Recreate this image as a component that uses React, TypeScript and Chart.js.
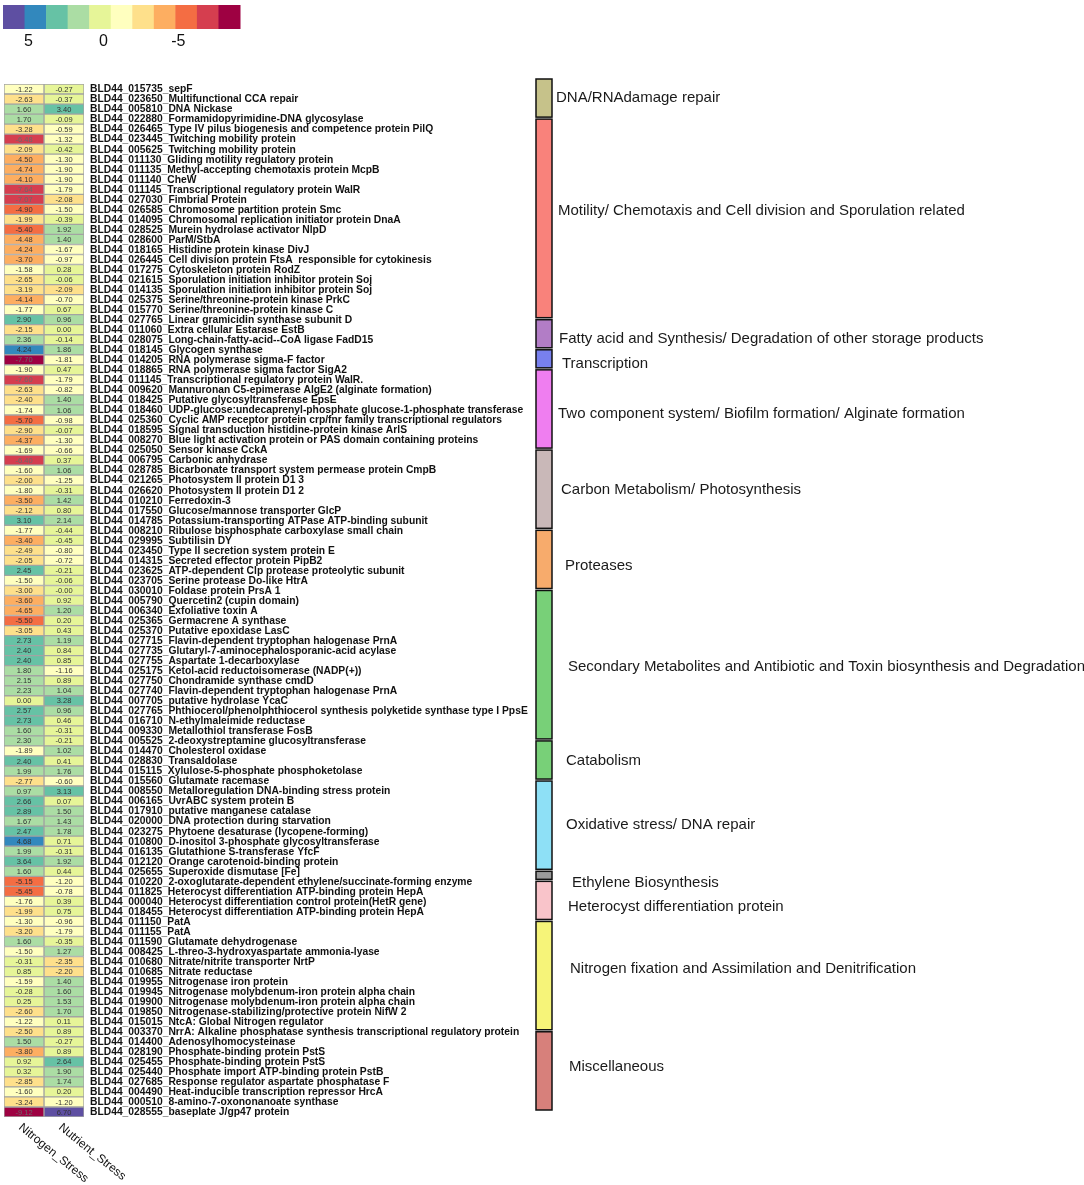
import React, { useEffect, useRef } from "react";
import { Chart, registerables } from "chart.js";
Chart.register(...registerables);

const geneLabels = [
  "BLD44_015735_sepF",
  "BLD44_023650_Multifunctional CCA repair",
  "BLD44_005810_DNA Nickase",
  "BLD44_022880_Formamidopyrimidine-DNA glycosylase",
  "BLD44_026465_Type IV pilus biogenesis and competence protein PilQ",
  "BLD44_023445_Twitching mobility protein",
  "BLD44_005625_Twitching mobility protein",
  "BLD44_011130_Gliding motility regulatory protein",
  "BLD44_011135_Methyl-accepting chemotaxis protein McpB",
  "BLD44_011140_CheW",
  "BLD44_011145_Transcriptional regulatory protein WalR",
  "BLD44_027030_Fimbrial Protein",
  "BLD44_026585_Chromosome partition protein Smc",
  "BLD44_014095_Chromosomal replication initiator protein DnaA",
  "BLD44_028525_Murein hydrolase activator NlpD",
  "BLD44_028600_ParM/StbA",
  "BLD44_018165_Histidine protein kinase DivJ",
  "BLD44_026445_Cell division protein FtsA  responsible for cytokinesis",
  "BLD44_017275_Cytoskeleton protein RodZ",
  "BLD44_021615_Sporulation initiation inhibitor protein Soj",
  "BLD44_014135_Sporulation initiation inhibitor protein Soj",
  "BLD44_025375_Serine/threonine-protein kinase PrkC",
  "BLD44_015770_Serine/threonine-protein kinase C",
  "BLD44_027765_Linear gramicidin synthase subunit D",
  "BLD44_011060_Extra cellular Estarase EstB",
  "BLD44_028075_Long-chain-fatty-acid--CoA ligase FadD15",
  "BLD44_018145_Glycogen synthase",
  "BLD44_014205_RNA polymerase sigma-F factor",
  "BLD44_018865_RNA polymerase sigma factor SigA2",
  "BLD44_011145_Transcriptional regulatory protein WalR.",
  "BLD44_009620_Mannuronan C5-epimerase AlgE2 (alginate formation)",
  "BLD44_018425_Putative glycosyltransferase EpsE",
  "BLD44_018460_UDP-glucose:undecaprenyl-phosphate glucose-1-phosphate transferase",
  "BLD44_025360_Cyclic AMP receptor protein crp/fnr family transcriptional regulators",
  "BLD44_018595_Signal transduction histidine-protein kinase ArlS",
  "BLD44_008270_Blue light activation protein or PAS domain containing proteins",
  "BLD44_025050_Sensor kinase CckA",
  "BLD44_006795_Carbonic anhydrase",
  "BLD44_028785_Bicarbonate transport system permease protein CmpB",
  "BLD44_021265_Photosystem II protein D1 3",
  "BLD44_026620_Photosystem II protein D1 2",
  "BLD44_010210_Ferredoxin-3",
  "BLD44_017550_Glucose/mannose transporter GlcP",
  "BLD44_014785_Potassium-transporting ATPase ATP-binding subunit",
  "BLD44_008210_Ribulose bisphosphate carboxylase small chain",
  "BLD44_029995_Subtilisin DY",
  "BLD44_023450_Type II secretion system protein E",
  "BLD44_014315_Secreted effector protein PipB2",
  "BLD44_023625_ATP-dependent Clp protease proteolytic subunit",
  "BLD44_023705_Serine protease Do-like HtrA",
  "BLD44_030010_Foldase protein PrsA 1",
  "BLD44_005790_Quercetin2 (cupin domain)",
  "BLD44_006340_Exfoliative toxin A",
  "BLD44_025365_Germacrene A synthase",
  "BLD44_025370_Putative epoxidase LasC",
  "BLD44_027715_Flavin-dependent tryptophan halogenase PrnA",
  "BLD44_027735_Glutaryl-7-aminocephalosporanic-acid acylase",
  "BLD44_027755_Aspartate 1-decarboxylase",
  "BLD44_025175_Ketol-acid reductoisomerase (NADP(+))",
  "BLD44_027750_Chondramide synthase cmdD",
  "BLD44_027740_Flavin-dependent tryptophan halogenase PrnA",
  "BLD44_007705_putative hydrolase YcaC",
  "BLD44_027765_Phthiocerol/phenolphthiocerol synthesis polyketide synthase type I PpsE",
  "BLD44_016710_N-ethylmaleimide reductase",
  "BLD44_009330_Metallothiol transferase FosB",
  "BLD44_005525_2-deoxystreptamine glucosyltransferase",
  "BLD44_014470_Cholesterol oxidase",
  "BLD44_028830_Transaldolase",
  "BLD44_015115_Xylulose-5-phosphate phosphoketolase",
  "BLD44_015560_Glutamate racemase",
  "BLD44_008550_Metalloregulation DNA-binding stress protein",
  "BLD44_006165_UvrABC system protein B",
  "BLD44_017910_putative manganese catalase",
  "BLD44_020000_DNA protection during starvation",
  "BLD44_023275_Phytoene desaturase (lycopene-forming)",
  "BLD44_010800_D-inositol 3-phosphate glycosyltransferase",
  "BLD44_016135_Glutathione S-transferase YfcF",
  "BLD44_012120_Orange carotenoid-binding protein",
  "BLD44_025655_Superoxide dismutase [Fe]",
  "BLD44_010220_2-oxoglutarate-dependent ethylene/succinate-forming enzyme",
  "BLD44_011825_Heterocyst differentiation ATP-binding protein HepA",
  "BLD44_000040_Heterocyst differentiation control protein(HetR gene)",
  "BLD44_018455_Heterocyst differentiation ATP-binding protein HepA",
  "BLD44_011150_PatA",
  "BLD44_011155_PatA",
  "BLD44_011590_Glutamate dehydrogenase",
  "BLD44_008425_L-threo-3-hydroxyaspartate ammonia-lyase",
  "BLD44_010680_Nitrate/nitrite transporter NrtP",
  "BLD44_010685_Nitrate reductase",
  "BLD44_019955_Nitrogenase iron protein",
  "BLD44_019945_Nitrogenase molybdenum-iron protein alpha chain",
  "BLD44_019900_Nitrogenase molybdenum-iron protein alpha chain",
  "BLD44_019850_Nitrogenase-stabilizing/protective protein NifW 2",
  "BLD44_015015_NtcA: Global Nitrogen regulator",
  "BLD44_003370_NrrA: Alkaline phosphatase synthesis transcriptional regulatory protein",
  "BLD44_014400_Adenosylhomocysteinase",
  "BLD44_028190_Phosphate-binding protein PstS",
  "BLD44_025455_Phosphate-binding protein PstS",
  "BLD44_025440_Phosphate import ATP-binding protein PstB",
  "BLD44_027685_Response regulator aspartate phosphatase F",
  "BLD44_004490_Heat-inducible transcription repressor HrcA",
  "BLD44_000510_8-amino-7-oxononanoate synthase",
  "BLD44_028555_baseplate J/gp47 protein",
];

const nitrogenStress = [
  -1.22, -2.63, 1.6, 1.7, -3.28, -6.48, -2.09, -4.5, -4.74, -4.1,
  -7.64, -7.07, -4.9, -1.99, -5.4, -4.48, -4.24, -3.7, -1.58, -2.65,
  -3.19, -4.14, -1.77, 2.9, -2.15, 2.36, 4.24, -7.7, -1.9, -7.6,
  -2.63, -2.4, -1.74, -5.7, -2.9, -4.37, -1.69, -6.4, -1.6, -2.0,
  -1.8, -3.5, -2.12, 3.1, -1.77, -3.4, -2.49, -2.05, 2.45, -1.5,
  -3.0, -3.6, -4.65, -5.5, -3.05, 2.73, 2.4, 2.4, 1.8, 2.15,
  2.23, 0.0, 2.57, 2.73, 1.6, 2.3, -1.89, 2.4, 1.99, -2.77,
  0.97, 2.66, 2.89, 1.67, 2.47, 4.68, 1.99, 3.64, 1.6, -5.15,
  -5.45, -1.76, -1.99, -1.3, -3.2, 1.6, -1.5, -0.31, 0.85, -1.59,
  -0.28, 0.25, -2.6, -1.22, -2.5, 1.5, -3.8, 0.92, 0.32, -2.85,
  -1.6, -3.24, -9.12,
];

const nutrientStress = [
  -0.27, -0.37, 3.4, -0.09, -0.59, -1.32, -0.42, -1.3, -1.9, -1.9,
  -1.79, -2.08, -1.5, -0.39, 1.92, 1.4, -1.67, -0.97, 0.28, -0.06,
  -2.09, -0.7, 0.67, 0.96, 0.0, -0.14, 1.86, -1.81, 0.47, -1.79,
  -0.82, 1.4, 1.06, -0.98, -0.07, -1.3, -0.66, 0.37, 1.06, -1.25,
  -0.31, 1.42, 0.8, 2.14, -0.44, -0.45, -0.8, -0.72, -0.21, -0.06,
  -0.004, 0.92, 1.2, 0.2, 0.43, 1.19, 0.84, 0.85, -1.16, 0.89,
  1.04, 3.28, 0.96, 0.46, -0.31, -0.21, 1.02, 0.41, 1.76, -0.6,
  3.13, 0.07, 1.5, 1.43, 1.78, 0.71, -0.31, 1.92, 0.44, -1.2,
  -0.78, 0.39, 0.75, -0.96, -1.79, -0.35, 1.27, -2.35, -2.2, 1.4,
  1.6, 1.53, 1.7, 0.11, 0.89, -0.27, 0.89, 2.64, 1.9, 1.74,
  0.2, -1.2, 6.7,
];

const columnLabels = ["Nitrogen_Stress", "Nutrient_Stress"];

const groupNames = [
  "DNA/RNAdamage repair",
  "Motility/ Chemotaxis and Cell division and Sporulation related",
  "Fatty acid and Synthesis/ Degradation of other storage products",
  "Transcription",
  "Two component system/ Biofilm formation/ Alginate formation",
  "Carbon Metabolism/ Photosynthesis",
  "Proteases",
  "Secondary Metabolites and Antibiotic and Toxin biosynthesis and Degradation",
  "Catabolism",
  "Oxidative stress/ DNA repair",
  "Ethylene Biosynthesis",
  "Heterocyst differentiation protein",
  "Nitrogen fixation and Assimilation and Denitrification",
  "Miscellaneous",
];
const groupSizes = [4, 20, 3, 2, 8, 8, 6, 15, 4, 9, 1, 4, 11, 8];

const legendTicks = [5, 0, -5];

// styles
const groupColors = [
  "#c6c28a", "#f9827b", "#b27dc6", "#7880ee", "#ef7ef0", "#c9b8b8", "#f7ab6c",
  "#78d078", "#78d078", "#8ee0f6", "#9a9a9a", "#f9c4ca", "#f6f479", "#d7807b",
];
const groupLabelDx = [0, 2, 3, 6, 2, 5, 9, 12, 10, 10, 16, 12, 14, 13];
const groupLabelDy = [0, -8, 5, 5, 5, 1, 6, 2, 1, 0, 8, 6, -7, -4];
const palette = [
  "#5e4fa2", "#3288bd", "#66c2a5", "#abdda4", "#e6f598", "#ffffbf",
  "#fee08b", "#fdae61", "#f46d43", "#d53e4f", "#9e0142",
];

const allValues = nitrogenStress.concat(nutrientStress);
const vMax = Math.max(...allValues);
const vMin = Math.min(...allValues);
const colorFor = (v: number) => {
  let idx = Math.floor(((vMax - v) / (vMax - vMin)) * palette.length);
  if (idx < 0) idx = 0;
  if (idx > palette.length - 1) idx = palette.length - 1;
  return palette[idx];
};

const FONT = "'Liberation Sans', Arial, Helvetica, sans-serif";

const decorPlugin = {
  id: "decor",
  afterDraw(chart: any) {
    const ctx = chart.ctx as CanvasRenderingContext2D;
    const xs = chart.scales.x;
    const ys = chart.scales.y;
    const area = chart.chartArea;
    ctx.save();

    // cell values
    ctx.font = `7.5px ${FONT}`;
    ctx.textAlign = "center";
    ctx.textBaseline = "middle";
    const series = [nitrogenStress, nutrientStress];
    series.forEach((arr, d) => {
      arr.forEach((v, i) => {
        const x = xs.getPixelForValue(d + 0.5);
        const y = ys.getPixelForValue(i);
        const idx = palette.indexOf(colorFor(v));
        ctx.fillStyle = idx >= 9 ? "#6a6a6a" : "#333333";
        ctx.fillText(v.toFixed(2), x, y + 0.5);
      });
    });

    // gene labels
    ctx.font = `bold 10.3px ${FONT}`;
    ctx.textAlign = "left";
    ctx.fillStyle = "#111";
    geneLabels.forEach((lab, i) => {
      ctx.fillText(lab, area.right + 6, ys.getPixelForValue(i) + 0.5);
    });

    // group boxes (row boundaries from the category scale)
    const edge = (r: number) => ys.getPixelForValue(r - 0.5);
    let start = 0;
    groupSizes.forEach((n, g) => {
      const top = edge(start) - 5;
      const bot = edge(start + n) - 7;
      ctx.fillStyle = groupColors[g];
      ctx.fillRect(536, top, 16, bot - top);
      ctx.strokeStyle = "#111";
      ctx.lineWidth = 1.5;
      ctx.strokeRect(536, top, 16, bot - top);
      ctx.font = `15px ${FONT}`;
      ctx.fillStyle = "#1a1a1a";
      ctx.textBaseline = "middle";
      ctx.fillText(groupNames[g], 556 + groupLabelDx[g], (top + bot) / 2 + groupLabelDy[g]);
      start += n;
    });

    // color legend
    const lx0 = 3, lx1 = 240, ly0 = 5, ly1 = 29;
    const bw = (lx1 - lx0) / palette.length;
    palette.forEach((c, k) => {
      ctx.fillStyle = c;
      ctx.fillRect(lx0 + k * bw, ly0, bw + 0.5, ly1 - ly0);
    });
    ctx.font = `16px ${FONT}`;
    ctx.fillStyle = "#111";
    ctx.textAlign = "center";
    legendTicks.forEach((t) => {
      const x = lx0 + ((vMax - t) / (vMax - vMin)) * (lx1 - lx0);
      ctx.fillText(String(t), x, 42);
    });

    // column labels
    ctx.font = `12px ${FONT}`;
    ctx.textAlign = "left";
    ctx.textBaseline = "middle";
    columnLabels.forEach((lab, d) => {
      const x = xs.getPixelForValue(d + 0.5) - 4;
      ctx.save();
      ctx.translate(x, area.bottom + 9);
      ctx.rotate((39 * Math.PI) / 180);
      ctx.fillText(lab, 0, 0);
      ctx.restore();
    });

    ctx.restore();
  },
};

export default function App() {
  const ref = useRef<HTMLCanvasElement | null>(null);
  useEffect(() => {
    if (!ref.current) return;
    const chart = new Chart(ref.current, {
      type: "bar",
      data: {
        labels: geneLabels,
        datasets: columnLabels.map((lab, d) => ({
          label: lab,
          data: geneLabels.map(() => [d, d + 1]) as any,
          backgroundColor: (d === 0 ? nitrogenStress : nutrientStress).map(colorFor),
          borderColor: "#a3a3a3",
          borderWidth: 1,
          borderSkipped: false,
          barPercentage: 1,
          categoryPercentage: 1,
          grouped: false,
        })),
      },
      options: {
        indexAxis: "y",
        responsive: false,
        animation: false,
        devicePixelRatio: 1,
        layout: { padding: { left: 4, right: 1000, top: 84, bottom: 68 } },
        plugins: { legend: { display: false }, tooltip: { enabled: false } },
        scales: {
          x: { type: "linear", min: 0, max: 2, display: false },
          y: { type: "category", display: false },
        },
      } as any,
      plugins: [decorPlugin],
    });
    return () => chart.destroy();
  }, []);
  return (
    <div style={{ position: "absolute", left: 0, top: 0, width: 1084, height: 1185, background: "#fff" }}>
      <canvas ref={ref} width={1084} height={1185} style={{ width: 1084, height: 1185 }} />
    </div>
  );
}
